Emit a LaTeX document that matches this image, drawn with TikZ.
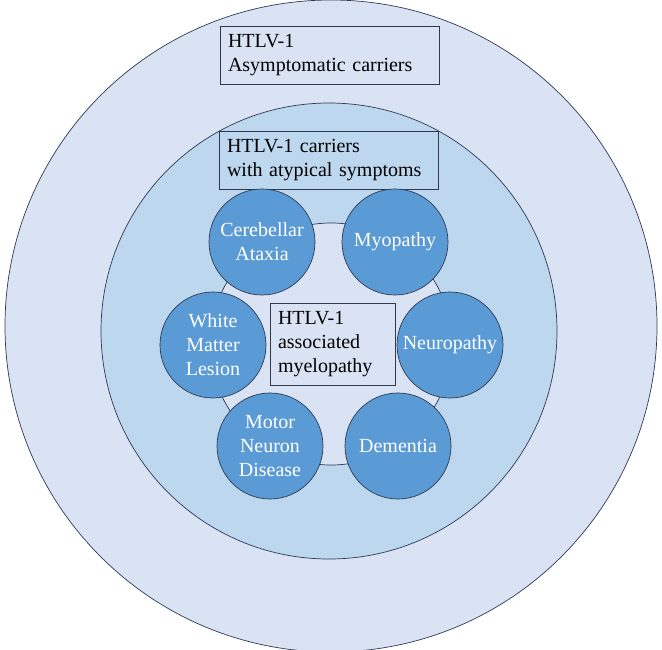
\documentclass[tikz,border=0pt]{standalone}
\usepackage{fontspec}
\setmainfont{Liberation Serif}
\usetikzlibrary{positioning}
\definecolor{paleblue}{HTML}{DAE3F3}
\definecolor{midblue}{HTML}{BDD7EE}
\definecolor{diseaseblue}{HTML}{5B9BD5}
\definecolor{edgeblue}{HTML}{2F3A52}

\begin{document}
\begin{tikzpicture}[
      x=1pt, y=-1pt,
      zone/.style={circle, draw=edgeblue, line width=0.7pt, inner sep=0pt},
      lbl/.style={draw=edgeblue, line width=0.8pt, align=left, inner xsep=8pt,
                  font=\fontsize{20}{24}\selectfont},
      dis/.style={zone, fill=diseaseblue, minimum size=106pt, align=center,
                  text=white, font=\fontsize{20}{24}\selectfont}]
    \useasboundingbox (0,0) rectangle (662,649);
    % nested zones
    \node[zone, fill=paleblue, minimum size=652pt] (asym) at (331,326) {};
    \node[zone, fill=midblue, minimum size=456pt] (atyp) at (329,331) {};
    \node[zone, fill=paleblue, minimum size=242pt] (hub) at (331,344) {};
    % zone labels
    \node[lbl, fill=paleblue, text width=203pt, minimum height=58pt] (asymlbl) at (329.5,55)
      {HTLV-1\\Asymptomatic carriers};
    \node[lbl, fill=midblue, text width=203pt, minimum height=58pt] (atyplbl) at (328.5,160)
      {HTLV-1 carriers\\with atypical symptoms};
    \node[lbl, fill=paleblue, text width=109pt, minimum height=82pt] (ham) at (332.5,344)
      {HTLV-1\\associated\\myelopathy};
    % atypical symptoms around the ring
    \node[dis] (cereb) at (262,242) {Cerebellar\\Ataxia};
    \node[dis] (myo)   at (395,242) {Myopathy};
    \node[dis] (neuro) at (450,345) {Neuropathy};
    \node[dis] (dem)   at (398,446) {Dementia};
    \node[dis] (motor) at (270,446) {Motor\\Neuron\\Disease};
    \node[dis] (white) at (213,345) {White\\Matter\\Lesion};
  \end{tikzpicture}
\end{document}
